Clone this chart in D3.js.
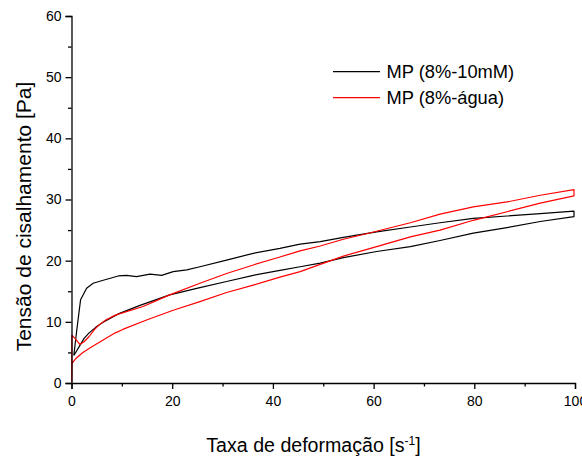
<!DOCTYPE html>
<html>
<head>
<meta charset="utf-8">
<script src="https://cdn.jsdelivr.net/npm/d3@7"></script>
<style>
  html, body { margin: 0; padding: 0; background: #fff; }
  svg { display: block; font-family: Arial, "Liberation Sans", Helvetica, sans-serif; }
</style>
</head>
<body>
<svg id="chart" width="582" height="457"></svg>
<script>
// ---- data ----
const seriesNames = ["MP (8%-10mM)", "MP (8%-água)"];
const xMajorTicks = [0, 20, 40, 60, 80, 100];
const xMinorTicks = [10, 30, 50, 70, 90];
const yMajorTicks = [0, 10, 20, 30, 40, 50, 60];
const yMinorTicks = [5, 15, 25, 35, 45, 55];

// MP (8%-10mM): increasing shear rate branch
const blackUp = [
  [0.46, 4.5], [1.1, 9.0], [1.8, 13.6], [3.0, 15.5], [4.3, 16.3], [6.3, 16.8],
  [9.3, 17.5], [10.9, 17.6], [12.9, 17.4], [15.6, 17.8], [17.9, 17.6], [20.2, 18.2],
  [22.9, 18.5], [25.5, 19.0], [30.8, 20.1], [36.1, 21.2], [41.4, 22.0], [45.4, 22.7],
  [49.4, 23.1], [54.0, 23.8], [60.6, 24.7], [67.3, 25.5], [73.2, 26.2], [79.8, 26.9],
  [86.5, 27.3], [93.1, 27.7], [99.8, 28.1]
];
// MP (8%-10mM): decreasing shear rate branch
const blackDown = [
  [99.8, 27.2], [93.1, 26.4], [86.5, 25.4], [79.8, 24.5], [73.2, 23.3], [67.3, 22.3],
  [60.6, 21.5], [54.0, 20.5], [49.4, 19.6], [45.4, 19.0], [41.4, 18.4], [36.1, 17.6],
  [30.8, 16.6], [25.5, 15.6], [19.5, 14.4], [13.6, 12.7], [9.3, 11.3], [6.2, 9.9],
  [4.8, 9.1], [3.5, 8.2], [2.5, 7.3], [1.5, 5.9], [0.46, 4.5]
];
// MP (8%-água): increasing branch
const redUp = [
  [0.05, 0.2], [0.08, 7.8], [0.7, 7.3], [1.65, 6.3], [2.5, 6.75], [3.5, 7.6], [4.5, 8.7],
  [5.5, 9.5], [6.8, 10.3], [8.7, 11.1], [14.2, 12.5], [19.5, 14.4], [25.5, 16.3],
  [30.8, 17.9], [36.1, 19.3], [41.4, 20.6], [45.4, 21.6], [49.4, 22.4], [54.0, 23.5],
  [59.6, 24.6], [67.3, 26.2], [73.2, 27.6], [79.8, 28.8], [86.5, 29.6], [93.1, 30.7],
  [99.8, 31.6]
];
// MP (8%-água): decreasing branch
const redDown = [
  [99.8, 30.6], [93.1, 29.4], [86.5, 28.0], [79.8, 26.6], [73.2, 25.0], [67.3, 23.9],
  [60.6, 22.3], [54.0, 20.75], [49.4, 19.4], [45.4, 18.2], [41.4, 17.3], [36.1, 16.0],
  [30.8, 14.8], [25.5, 13.3], [20.2, 11.9], [14.9, 10.3], [10.3, 8.8], [8.7, 8.2],
  [6.2, 7.0], [3.8, 5.8], [2.2, 4.95], [0.85, 4.0], [0.1, 3.2], [0.05, 0.4]
];

// ---- layout ----
const svg = d3.select("#chart");
const padL = 71.5, padR = 575, padT = 16, padB = 383;

const x = d3.scaleLinear().domain([0, 100]).range([padL, padR]);
const y = d3.scaleLinear().domain([0, 60]).range([padB, padT]);

const line = d3.line().x(d => x(d[0])).y(d => y(d[1]));

const series = [
  { name: seriesNames[0], color: "#000000", pts: blackUp.concat(blackDown) },
  { name: seriesNames[1], color: "#ff0000", pts: redUp.concat(redDown) }
];

// curves
series.forEach(s => {
  svg.append("path")
    .attr("d", line(s.pts))
    .attr("fill", "none")
    .attr("stroke", s.color)
    .attr("stroke-width", 1.2)
    .attr("stroke-linejoin", "round");
});

// axes
const xAxis = svg.append("g").attr("transform", `translate(0,${padB})`)
  .call(d3.axisBottom(x).tickValues(xMajorTicks).tickSize(6).tickPadding(7).tickFormat(d3.format("d")));
const xMinor = svg.append("g").attr("transform", `translate(0,${padB})`)
  .call(d3.axisBottom(x).tickValues(xMinorTicks).tickSize(3.5).tickFormat(""));
const yAxis = svg.append("g").attr("transform", `translate(${padL},0)`)
  .call(d3.axisLeft(y).tickValues(yMajorTicks).tickSize(6).tickPadding(4).tickFormat(d3.format("d")));
const yMinor = svg.append("g").attr("transform", `translate(${padL},0)`)
  .call(d3.axisLeft(y).tickValues(yMinorTicks).tickSize(3.5).tickFormat(""));

[xAxis, xMinor, yAxis, yMinor].forEach(g => {
  g.select(".domain").attr("stroke", "#000").attr("stroke-width", 1.3);
  g.selectAll(".tick line").attr("stroke", "#000").attr("stroke-width", 1.3);
  g.selectAll(".tick text").attr("fill", "#000").style("font-size", "14px")
    .style("font-family", "Arial, 'Liberation Sans', sans-serif");
});
xMinor.select(".domain").remove();
yMinor.select(".domain").remove();

// axis titles
const xt = svg.append("text")
  .attr("x", 313.5).attr("y", 452)
  .attr("text-anchor", "middle")
  .style("font-size", "19.6px").attr("fill", "#000");
xt.append("tspan").text("Taxa de deformação [s");
xt.append("tspan").attr("baseline-shift", "super").style("font-size", "12px").text("-1");
xt.append("tspan").text("]");

svg.append("text")
  .attr("transform", `translate(31,216.5) rotate(-90)`)
  .attr("text-anchor", "middle")
  .style("font-size", "21px").attr("fill", "#000")
  .text("Tensão de cisalhamento [Pa]");

// legend
const legend = svg.append("g");
series.forEach((s, i) => {
  const ly = 71.7 + i * 26;
  legend.append("line")
    .attr("x1", 333).attr("x2", 380).attr("y1", ly).attr("y2", ly)
    .attr("stroke", s.color).attr("stroke-width", 1.2);
  legend.append("text")
    .attr("x", 386.5).attr("y", ly + 6.6)
    .style("font-size", "18.3px").attr("fill", "#000")
    .text(s.name);
});
</script>
</body>
</html>
